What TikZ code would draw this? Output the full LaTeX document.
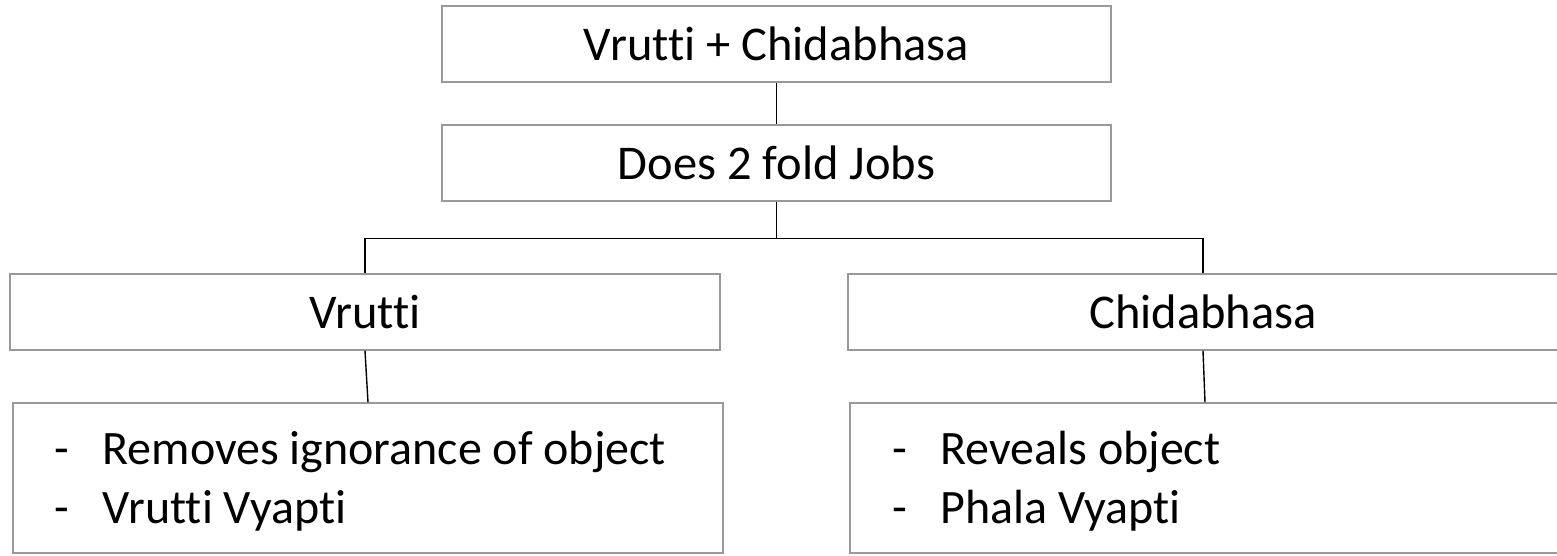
\documentclass[tikz,border=0pt]{standalone}
\usepackage{fontspec}
\setmainfont{Carlito}[RawFeature=-liga]
\begin{document}
\begin{tikzpicture}[x=1pt,y=-1pt,
  box/.style={draw=black!40, line width=1.4pt, fill=white, inner sep=0pt},
  head/.style={box, minimum width=669pt, minimum height=76pt, font=\fontsize{48.5}{56}\selectfont},
  branch/.style={box, minimum width=710pt, minimum height=76pt, font=\fontsize{48.5}{56}\selectfont},
  detail/.style={box, minimum width=710pt, minimum height=150pt},
  items/.style={inner sep=0pt, anchor=west, align=left, font=\fontsize{48}{59}\selectfont},
  link/.style={draw=black, line width=1.4pt}]
\useasboundingbox (0,0) rectangle (1557,555);
\clip (0,0) rectangle (1557,555);

% header boxes
\node[head] (top) at (776.5,44) {Vrutti + Chidabhasa};
\node[head] (jobs) at (776.5,163) {Does 2 fold Jobs};

% the two branches
\node[branch] (vr) at (365,312) {Vrutti};
\node[branch] (ch) at (1203,312) {Chidabhasa};

% detail boxes
\node[detail] (vrd) at (368,478) {};
\node[detail] (chd) at (1205,478) {};
\node[items] (vrt) at ([shift={(42,3)}]vrd.west)
  {\makebox[48pt][l]{-}Removes ignorance of object\\\makebox[48pt][l]{-}Vrutti Vyapti};
\node[items] (cht) at ([shift={(43,3)}]chd.west)
  {\makebox[48pt][l]{-}Reveals object\\\makebox[48pt][l]{-}Phala Vyapti};

% connectors
\draw[link] (top.south) -- (jobs.north);
\coordinate (fork) at ([shift={(0,37)}]jobs.south);
\draw[link] (jobs.south) -- (fork);
\draw[link] (vr.north) |- (fork) -| (ch.north);
\draw[link] (vr.south) -- (vrd.north);
\draw[link] (ch.south) -- (chd.north);
\end{tikzpicture}
\end{document}
